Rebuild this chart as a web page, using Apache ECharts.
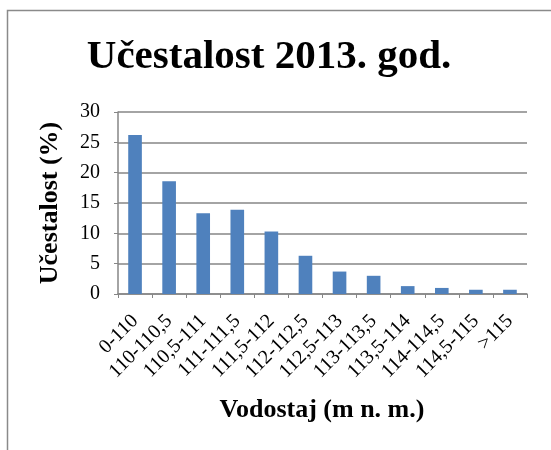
<!DOCTYPE html>
<html><head><meta charset="utf-8">
<script src="https://cdn.jsdelivr.net/npm/echarts@6/dist/echarts.min.js"></script>
<style>html,body{margin:0;padding:0;background:#fff}#c{width:551px;height:450px}</style>
</head><body><div id="c"></div>
<script>
var categories = ['0-110','110-110,5','110,5-111','111-111,5','111,5-112','112-112,5','112,5-113','113-113,5','113,5-114','114-114,5','114,5-115','>115'];
var values = [26.2, 18.6, 13.3, 13.9, 10.3, 6.3, 3.7, 3.0, 1.3, 1.0, 0.7, 0.7];
var yTicks = [0, 5, 10, 15, 20, 25, 30];
var titleText = 'Učestalost 2013. god.';
var yTitle = 'Učestalost (%)';
var xTitle = 'Vodostaj (m n. m.)';

var chart = echarts.init(document.getElementById('c'), null, {renderer:'canvas'});
var F = '"Liberation Serif", "Times New Roman", serif';
chart.setOption({
  animation:false,
  backgroundColor:'#fff',
  graphic:[
    {type:'rect', shape:{x:7.5,y:10.5,width:600,height:500}, style:{fill:null, stroke:'#8a8a8a', lineWidth:1.5}, silent:true, z:-1},
    {type:'text', x:269, y:57, style:{text:titleText, font:'bold 41px '+F, fill:'#000', textAlign:'center', textVerticalAlign:'middle'}},
    {type:'text', x:322, y:410, style:{text:xTitle, font:'bold 26px '+F, fill:'#000', textAlign:'center', textVerticalAlign:'middle'}},
    {type:'text', x:50, y:203, rotation:Math.PI/2, style:{text:yTitle, font:'bold 26px '+F, fill:'#000', textAlign:'center', textVerticalAlign:'middle'}}
  ],
  grid:{left:118, right:24, top:112, bottom:156, containLabel:false},
  xAxis:{type:'category', data:categories,
    axisLine:{lineStyle:{color:'#868686', width:1.5}},
    axisTick:{show:true, alignWithLabel:false, length:4, lineStyle:{color:'#868686'}},
    axisLabel:{rotate:45, interval:0, margin:24, color:'#000', fontFamily:F, fontSize:20}
  },
  yAxis:{type:'value', min:0, max:30, interval:5,
    axisLine:{show:true, lineStyle:{color:'#868686', width:1.5}},
    axisTick:{show:true, length:4, lineStyle:{color:'#868686'}},
    splitLine:{show:true, lineStyle:{color:'#868686', width:1.5}},
    axisLabel:{color:'#000', fontFamily:F, fontSize:20, margin:18,
      formatter:function(v){return yTicks.indexOf(v)>=0?String(v):'';}}
  },
  series:[{type:'bar', data:values, barWidth:'40%', itemStyle:{color:'#4F81BD'}}]
});
</script></body></html>
